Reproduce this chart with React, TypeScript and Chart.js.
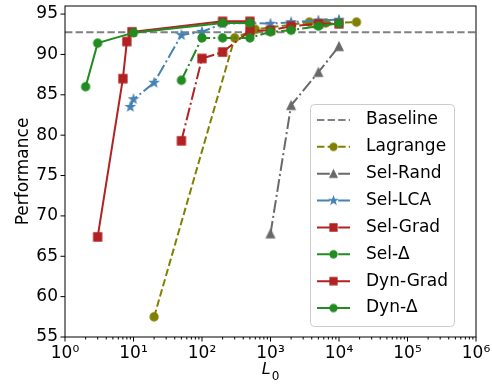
import React, { useEffect, useRef } from 'react';
import { Chart, registerables } from 'chart.js';

Chart.register(...registerables);

// ---- data ----
const baselineValue = 92.75;
const lagrangeX = [20, 300, 600, 3700, 6400, 18000];
const lagrangeY = [57.5, 92.05, 93.1, 94.0, 93.9, 94.0];
const selRandX = [1000, 2000, 5000, 10000];
const selRandY = [67.8, 83.7, 87.8, 91.0];
const selLcaX = [9, 10, 20, 50, 100, 200, 500, 1000, 2000, 5000, 10000];
const selLcaY = [83.5, 84.45, 86.5, 92.4, 92.8, 93.8, 93.9, 93.8, 94.0, 94.2, 94.3];
const selGradX = [50, 100, 200, 500, 1000, 2000, 5000, 10000];
const selGradY = [79.3, 89.5, 90.3, 92.9, 93.0, 93.5, 93.8, 93.8];
const selDeltaX = [50, 100, 200, 500, 1000, 2000, 5000, 10000];
const selDeltaY = [86.8, 92.05, 92.05, 92.05, 92.8, 93.0, 93.5, 93.85];
const dynGradX = [3, 7, 8, 9.5, 200, 500];
const dynGradY = [67.4, 87.0, 91.6, 92.8, 94.1, 94.1];
const dynDeltaX = [2, 3, 10, 200, 500];
const dynDeltaY = [86.0, 91.4, 92.7, 93.9, 93.9];

const yTicks = [55, 60, 65, 70, 75, 80, 85, 90, 95];
const xDecades = [0, 1, 2, 3, 4, 5, 6];
const supDigits = ['⁰', '¹', '²', '³', '⁴', '⁵', '⁶'];

const FONT = '"DejaVu Sans", "Noto Sans", sans-serif';

const OLIVE = '#808000';
const DIMGRAY = '#696969';
const STEEL = '#4682b4';
const FIRE = '#b22222';
const FOREST = '#228b22';
const GRAY = '#808080';

const DASHED = [7.4, 3.2];
const DASHDOT = [12.8, 3.2, 2, 3.2];

function makeMarker(shape: string, color: string, size: number): HTMLCanvasElement {
  const pad = 2;
  const dim = Math.ceil(size + pad * 2);
  const c = document.createElement('canvas');
  c.width = dim;
  c.height = dim;
  const g = c.getContext('2d') as CanvasRenderingContext2D;
  const cx = dim / 2;
  const cy = dim / 2;
  const r = size / 2;
  g.fillStyle = color;
  g.strokeStyle = color;
  g.lineWidth = 1.3;
  g.lineJoin = 'miter';
  g.beginPath();
  if (shape === 'circle') {
    g.arc(cx, cy, r, 0, Math.PI * 2);
  } else if (shape === 'square') {
    g.rect(cx - r, cy - r, 2 * r, 2 * r);
  } else if (shape === 'triangle') {
    g.moveTo(cx, cy - r);
    g.lineTo(cx - r, cy + r);
    g.lineTo(cx + r, cy + r);
    g.closePath();
  } else if (shape === 'star') {
    for (let k = 0; k < 10; k++) {
      const a = -Math.PI / 2 + (k * Math.PI) / 5;
      const rr = k % 2 === 0 ? r * 1.05 : r * 0.42;
      const px = cx + rr * Math.cos(a);
      const py = cy + rr * Math.sin(a);
      if (k === 0) g.moveTo(px, py);
      else g.lineTo(px, py);
    }
    g.closePath();
  }
  g.fill();
  g.stroke();
  return c;
}

function pts(xs: number[], ys: number[]) {
  return xs.map((x, i) => ({ x, y: ys[i] }));
}

export default function App() {
  const ref = useRef<HTMLCanvasElement | null>(null);

  useEffect(() => {
    if (!ref.current) return;
    const mSize = 8;
    const lSize = 7;
    const mk = {
      olive: makeMarker('circle', OLIVE, mSize),
      tri: makeMarker('triangle', DIMGRAY, mSize),
      star: makeMarker('star', STEEL, mSize),
      redSq: makeMarker('square', FIRE, mSize),
      greenC: makeMarker('circle', FOREST, mSize),
    };
    const lk = {
      olive: makeMarker('circle', OLIVE, lSize),
      tri: makeMarker('triangle', DIMGRAY, lSize),
      star: makeMarker('star', STEEL, lSize),
      redSq: makeMarker('square', FIRE, lSize),
      greenC: makeMarker('circle', FOREST, lSize),
    };

    const series = [
      { label: 'Baseline', data: [{ x: 1, y: baselineValue }, { x: 1e6, y: baselineValue }], color: GRAY, dash: DASHED, marker: null as any, lmarker: null as any },
      { label: 'Lagrange', data: pts(lagrangeX, lagrangeY), color: OLIVE, dash: DASHED, marker: mk.olive, lmarker: lk.olive },
      { label: 'Sel-Rand', data: pts(selRandX, selRandY), color: DIMGRAY, dash: DASHDOT, marker: mk.tri, lmarker: lk.tri },
      { label: 'Sel-LCA', data: pts(selLcaX, selLcaY), color: STEEL, dash: DASHDOT, marker: mk.star, lmarker: lk.star },
      { label: 'Sel-Grad', data: pts(selGradX, selGradY), color: FIRE, dash: DASHDOT, marker: mk.redSq, lmarker: lk.redSq },
      { label: 'Sel-Δ', data: pts(selDeltaX, selDeltaY), color: FOREST, dash: DASHDOT, marker: mk.greenC, lmarker: lk.greenC },
      { label: 'Dyn-Grad', data: pts(dynGradX, dynGradY), color: FIRE, dash: [] as number[], marker: mk.redSq, lmarker: lk.redSq },
      { label: 'Dyn-Δ', data: pts(dynDeltaX, dynDeltaY), color: FOREST, dash: [] as number[], marker: mk.greenC, lmarker: lk.greenC },
    ];

    const n = series.length;
    const datasets = series.map((s, i) => ({
      label: s.label,
      data: s.data,
      borderColor: s.color,
      backgroundColor: s.color,
      borderWidth: 2,
      borderDash: s.dash,
      pointStyle: s.marker || 'circle',
      pointRadius: s.marker ? 4 : 0,
      pointHoverRadius: s.marker ? 4 : 0,
      tension: 0,
      fill: false,
      order: n - i,
    }));

    const framePlugin = {
      id: 'frameTicks',
      afterDatasetsDraw(chart: any) {
        const { ctx, chartArea } = chart;
        const { left, right, top, bottom } = chartArea;
        const xs = chart.scales.x;
        const ys = chart.scales.y;
        ctx.save();
        ctx.strokeStyle = '#000';
        ctx.lineWidth = 1;
        ctx.setLineDash([]);
        ctx.strokeRect(left, top, right - left, bottom - top);
        ctx.beginPath();
        for (let d = 0; d <= 6; d++) {
          const base = Math.pow(10, d);
          const px = xs.getPixelForValue(base);
          ctx.moveTo(px, bottom);
          ctx.lineTo(px, bottom + 4.5);
          if (d < 6) {
            for (let m = 2; m <= 9; m++) {
              const mp = xs.getPixelForValue(base * m);
              ctx.moveTo(mp, bottom);
              ctx.lineTo(mp, bottom + 2.5);
            }
          }
        }
        for (const v of yTicks) {
          const py = ys.getPixelForValue(v);
          ctx.moveTo(left, py);
          ctx.lineTo(left - 4.5, py);
        }
        ctx.stroke();
        ctx.restore();
      },
      afterDraw(chart: any) {
        const { ctx, chartArea } = chart;
        ctx.save();
        // x axis title  L_0
        const cx = (chartArea.left + chartArea.right) / 2;
        const by = 374;
        ctx.fillStyle = '#000';
        ctx.textBaseline = 'alphabetic';
        ctx.font = `italic 16px ${FONT}`;
        const wL = ctx.measureText('L').width;
        ctx.font = `12px ${FONT}`;
        const w0 = ctx.measureText('0').width;
        const total = wL + w0 + 1;
        const sx = cx - total / 2;
        ctx.font = `italic 16px ${FONT}`;
        ctx.fillText('L', sx, by);
        ctx.font = `12px ${FONT}`;
        ctx.fillText('0', sx + wL + 1, by + 6);

        // legend
        const bx = 310.5, byy = 104.5, bw = 144, bh = 222;
        ctx.beginPath();
        const r = 4;
        ctx.moveTo(bx + r, byy);
        ctx.lineTo(bx + bw - r, byy);
        ctx.arcTo(bx + bw, byy, bx + bw, byy + r, r);
        ctx.lineTo(bx + bw, byy + bh - r);
        ctx.arcTo(bx + bw, byy + bh, bx + bw - r, byy + bh, r);
        ctx.lineTo(bx + r, byy + bh);
        ctx.arcTo(bx, byy + bh, bx, byy + bh - r, r);
        ctx.lineTo(bx, byy + r);
        ctx.arcTo(bx, byy, bx + r, byy, r);
        ctx.closePath();
        ctx.fillStyle = 'rgba(255,255,255,0.8)';
        ctx.fill();
        ctx.strokeStyle = '#cccccc';
        ctx.lineWidth = 1;
        ctx.stroke();

        series.forEach((s, i) => {
          const y = 120 + i * 26.86;
          ctx.beginPath();
          ctx.setLineDash(s.dash);
          ctx.strokeStyle = s.color;
          ctx.lineWidth = 2;
          ctx.moveTo(317, y);
          ctx.lineTo(350, y);
          ctx.stroke();
          ctx.setLineDash([]);
          if (s.lmarker) {
            const m = s.lmarker as HTMLCanvasElement;
            ctx.drawImage(m, 333.5 - m.width / 2, y - m.height / 2);
          }
          ctx.fillStyle = '#000';
          ctx.font = `17px ${FONT}`;
          ctx.textBaseline = 'middle';
          ctx.fillText(s.label, 366, y);
        });
        ctx.restore();
      },
    };

    const chart = new Chart(ref.current, {
      type: 'line',
      data: { datasets: datasets as any },
      options: {
        animation: false,
        responsive: true,
        maintainAspectRatio: false,
        layout: { padding: { top: 5, right: 16, bottom: 0, left: 0 } },
        plugins: { legend: { display: false }, tooltip: { enabled: false } },
        events: [],
        scales: {
          x: {
            type: 'logarithmic',
            min: 1,
            max: 1e6,
            afterBuildTicks: (s: any) => {
              s.ticks = xDecades.map((d) => ({ value: Math.pow(10, d) }));
            },
            ticks: {
              autoSkip: false,
              maxRotation: 0,
              padding: 6,
              color: '#000',
              font: { family: FONT, size: 17 },
              callback: (v: any) => '10' + supDigits[Math.round(Math.log10(Number(v)))],
            },
            grid: { display: false, drawTicks: false },
            border: { display: false },
            afterFit: (s: any) => {
              s.height = 50;
              s.paddingLeft = 0;
              s.paddingRight = 0;
            },
          },
          y: {
            type: 'linear',
            min: 55,
            max: 96,
            afterBuildTicks: (s: any) => {
              s.ticks = yTicks.map((v) => ({ value: v }));
            },
            ticks: {
              padding: 7,
              color: '#000',
              font: { family: FONT, size: 17 },
            },
            title: {
              display: true,
              text: 'Performance',
              color: '#000',
              font: { family: FONT, size: 17 },
              padding: { top: 13, bottom: 0 },
            },
            grid: { display: false, drawTicks: false },
            border: { display: false },
            afterFit: (s: any) => {
              s.width = 65;
              s.paddingTop = 0;
              s.paddingBottom = 0;
            },
          },
        },
      } as any,
      plugins: [framePlugin],
    });
    return () => chart.destroy();
  }, []);

  return (
    <div style={{ position: 'fixed', left: 0, top: 0, width: 492, height: 387, background: '#fff' }}>
      <canvas ref={ref} />
    </div>
  );
}
